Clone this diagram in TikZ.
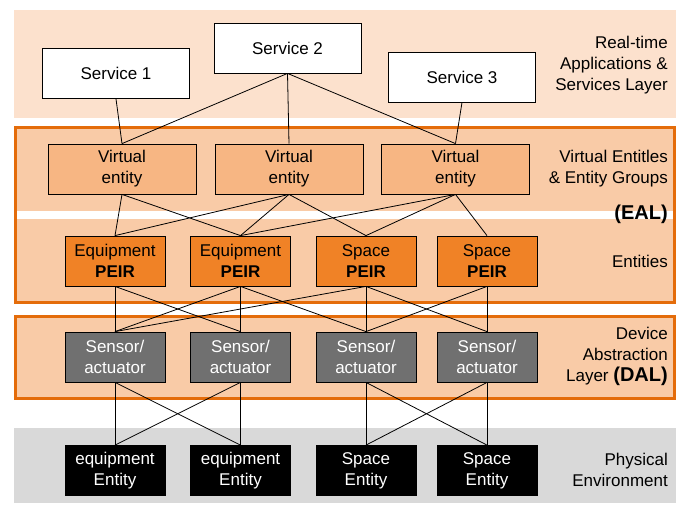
\documentclass[tikz,border=0pt]{standalone}
\usepackage{fontspec}
\setmainfont{Liberation Sans}
\definecolor{bandtop}{HTML}{FCE1CD}
\definecolor{bandmid}{HTML}{F9CBA7}
\definecolor{rimorange}{HTML}{E46C0A}
\definecolor{vefill}{HTML}{F7B683}
\definecolor{peirfill}{HTML}{F08226}
\definecolor{sensfill}{HTML}{707070}
\definecolor{bandgray}{HTML}{D9D9D9}

\begin{document}
\begin{tikzpicture}[x=1pt,y=-1pt,
  every node/.style={font=\fontsize{17}{21}\selectfont, align=center, inner sep=0pt},
  box/.style={draw=black, line width=0.8pt, minimum height=50pt},
  svc/.style={box, fill=white, minimum width=147pt},
  vent/.style={box, fill=vefill, minimum width=148pt},
  peir/.style={box, fill=peirfill, minimum width=100pt},
  sens/.style={box, fill=sensfill, text=white, minimum width=100pt},
  phys/.style={box, fill=black, text=white, minimum width=100pt},
  layerlabel/.style={anchor=east, align=right},
  link/.style={draw=black, line width=0.8pt},
  bigbold/.style={font=\fontsize{20}{24}\selectfont\bfseries}
]
\useasboundingbox (0,0) rectangle (683,504);

% layer bands
\fill[bandtop] (14,10) rectangle (676,118);
\draw[rimorange, line width=3pt, fill=bandmid] (15.5,127.5) rectangle (674.5,302);
\fill[white] (17,211) rectangle (673,219);
\draw[rimorange, line width=3pt, fill=bandmid] (15.5,316) rectangle (674.5,398);
\fill[bandgray] (14,428) rectangle (676,503);

% services
\node[svc] (s1) at (116,73.5) {Service 1};
\node[svc] (s2) at (287.5,48) {Service 2};
\node[svc] (s3) at (462,77) {Service 3};

% virtual entities
\node[vent] (v1) at (122,169) {Virtual\\entity};
\node[vent] (v2) at (289,169) {Virtual\\entity};
\node[vent] (v3) at (455.5,169) {Virtual\\entity};

% entities (PEIR)
\node[peir] (p1) at (115,261) {Equipment\\\textbf{PEIR}};
\node[peir] (p2) at (240.5,261) {Equipment\\\textbf{PEIR}};
\node[peir] (p3) at (366,261) {Space\\\textbf{PEIR}};
\node[peir] (p4) at (487,261) {Space\\\textbf{PEIR}};

% sensors / actuators
\node[sens] (a1) at (115,357) {Sensor/\\actuator};
\node[sens] (a2) at (240.5,357) {Sensor/\\actuator};
\node[sens] (a3) at (366,357) {Sensor/\\actuator};
\node[sens] (a4) at (487,357) {Sensor/\\actuator};

% physical entities
\node[phys] (e1) at (115,470.5) {equipment\\Entity};
\node[phys] (e2) at (240.5,470.5) {equipment\\Entity};
\node[phys] (e3) at (366,470.5) {Space\\Entity};
\node[phys] (e4) at (487,470.5) {Space\\Entity};

% layer captions
\node[layerlabel] (lApp) at (668,65) {Real-time\\Applications \&\\Services Layer};
\node[layerlabel] (lVE) at (668,168.5) {Virtual Entitles\\\& Entity Groups};
\node[layerlabel, bigbold] (lEAL) at (668,214) {(EAL)};
\node[layerlabel] (lEnt) at (668,261) {Entities};
\node[layerlabel] (lDAL) at (668,356) {Device\\Abstraction\\Layer {\fontsize{20}{21}\selectfont\bfseries (DAL)}};
\node[layerlabel] (lPhy) at (668,470) {Physical\\Environment};

% connectors
\foreach \a/\b in {s1/v1, s2/v1, s2/v2, s2/v3, s3/v3,
                   v1/p1, v1/p2, v2/p1, v2/p2, v2/p3, v3/p2, v3/p3, v3/p4,
                   p1/a1, p1/a2, p2/a1, p2/a2, p2/a3, p3/a1, p3/a3, p3/a4, p4/a3, p4/a4,
                   a1/e1, a1/e2, a2/e1, a2/e2, a3/e3, a3/e4, a4/e3, a4/e4}
  \draw[link] (\a.south) -- (\b.north);
\end{tikzpicture}
\end{document}
